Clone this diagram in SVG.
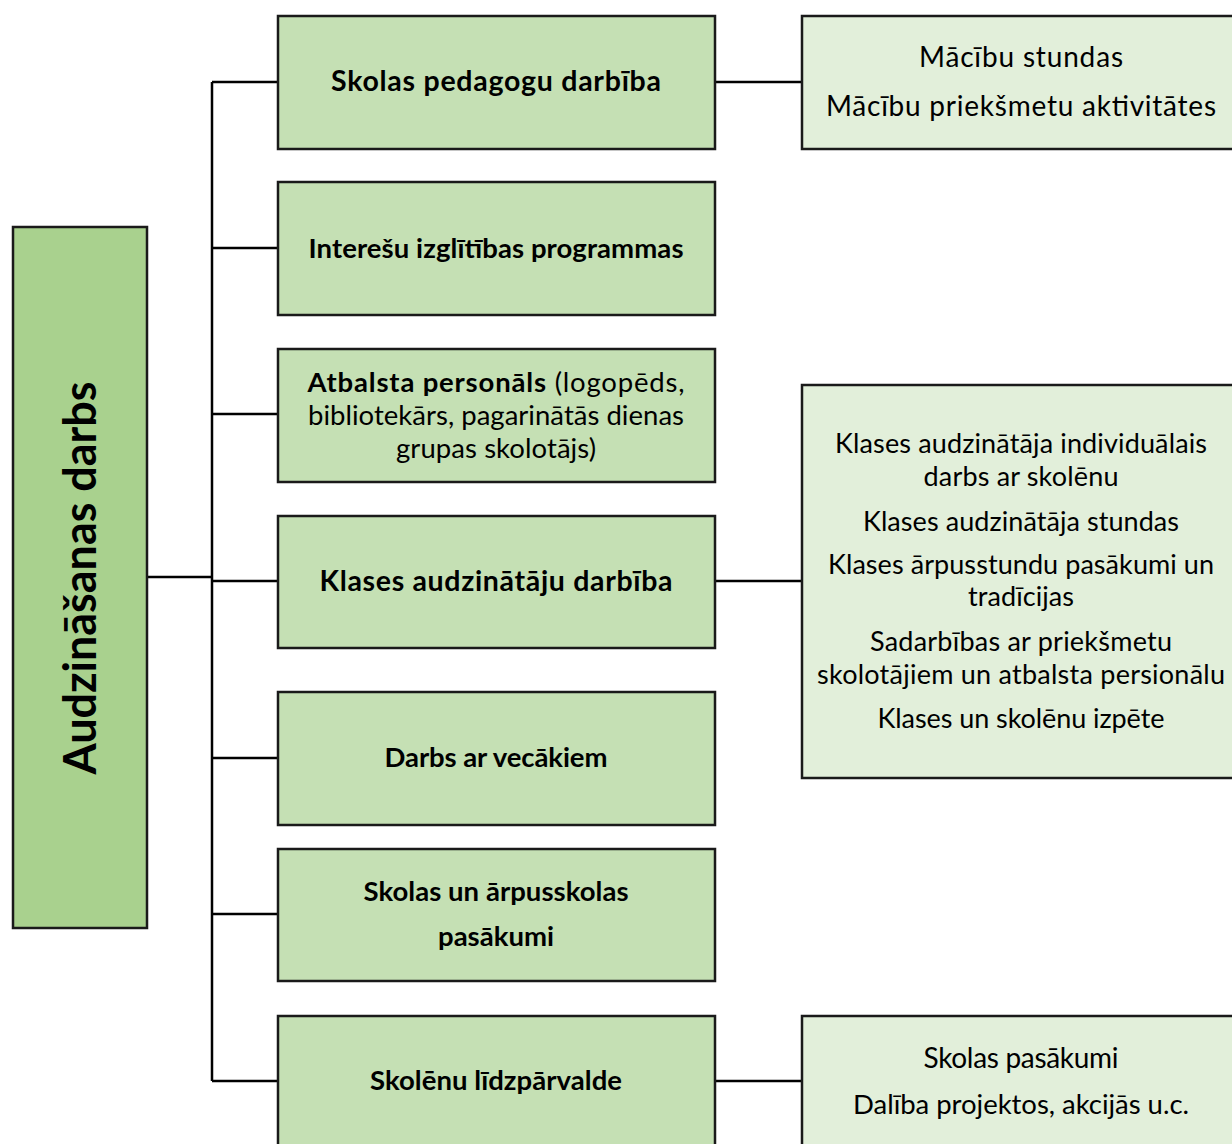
<svg xmlns="http://www.w3.org/2000/svg" width="1232" height="1144" viewBox="0 0 1232 1144">
<style>
.root{fill:#A9D18E;stroke:#1a1a1a;stroke-width:2.5}
.mid{fill:#C5E0B4;stroke:#1a1a1a;stroke-width:2.5}
.det{fill:#E2EFDA;stroke:#1a1a1a;stroke-width:2.5}
.conn{fill:none;stroke:#000;stroke-width:2.5}
text{font-family:Lato,"Open Sans","Liberation Sans",sans-serif;fill:#000;text-anchor:middle}
.b{font-weight:bold;font-size:28.5px}
.bs{font-weight:bold;font-size:27.5px}
.r{font-size:28px}
.rm{font-size:27.5px}
.rs{font-size:27px}
.title{font-weight:bold;font-size:45px}
</style>
<rect width="1232" height="1144" fill="#fff"/>
<g id="connectors">
<path class="conn" d="M147 577H212M212 82V1081M212 82H278M212 248H278M212 414H278M212 581H278M212 758H278M212 914H278M212 1081H278M715 82H802M715 581H802M715 1081H802"/>
</g>
<g id="root">
<rect class="root" x="13" y="227" width="134" height="701"/>
<text class="title" transform="translate(96 578) rotate(-90)" textLength="393">Audzināšanas darbs</text>
</g>
<g id="n1">
<rect class="mid" x="278" y="16" width="437" height="133"/>
<text class="b" x="496" y="91" textLength="330">Skolas pedagogu darbība</text>
</g>
<g id="n2">
<rect class="mid" x="278" y="182" width="437" height="133"/>
<text class="bs" x="496" y="258" textLength="375">Interešu izglītības programmas</text>
</g>
<g id="n3">
<rect class="mid" x="278" y="349" width="437" height="133"/>
<text class="rm" x="496" y="392" textLength="377"><tspan font-weight="bold">Atbalsta personāls</tspan> (logopēds,</text>
<text class="rm" x="496" y="425" textLength="376">bibliotekārs, pagarinātās dienas</text>
<text class="rm" x="496" y="458" textLength="200">grupas skolotājs)</text>
</g>
<g id="n4">
<rect class="mid" x="278" y="516" width="437" height="132"/>
<text class="b" x="496" y="591" textLength="353">Klases audzinātāju darbība</text>
</g>
<g id="n5">
<rect class="mid" x="278" y="692" width="437" height="133"/>
<text class="bs" x="496" y="767" textLength="223">Darbs ar vecākiem</text>
</g>
<g id="n6">
<rect class="mid" x="278" y="849" width="437" height="132"/>
<text class="bs" x="496" y="901" textLength="265">Skolas un ārpusskolas</text>
<text class="bs" x="496" y="946" textLength="116">pasākumi</text>
</g>
<g id="n7">
<rect class="mid" x="278" y="1016" width="437" height="160"/>
<text class="bs" x="496" y="1090" textLength="252">Skolēnu līdzpārvalde</text>
</g>
<g id="d1">
<rect class="det" x="802" y="16" width="460" height="133"/>
<text class="r" x="1021" y="67" textLength="204">Mācību stundas</text>
<text class="r" x="1021" y="116" textLength="390">Mācību priekšmetu aktivitātes</text>
</g>
<g id="d2">
<rect class="det" x="802" y="385" width="460" height="393"/>
<text class="rs" x="1021" y="453" textLength="372">Klases audzinātāja individuālais</text>
<text class="rs" x="1021" y="486" textLength="195">darbs ar skolēnu</text>
<text class="rs" x="1021" y="531" textLength="316">Klases audzinātāja stundas</text>
<text class="rs" x="1021" y="574" textLength="386">Klases ārpusstundu pasākumi un</text>
<text class="rs" x="1021" y="606" textLength="106">tradīcijas</text>
<text class="rs" x="1021" y="651" textLength="302">Sadarbības ar priekšmetu</text>
<text class="rs" x="1021" y="684" textLength="408">skolotājiem un atbalsta persionālu</text>
<text class="rs" x="1021" y="728" textLength="287">Klases un skolēnu izpēte</text>
</g>
<g id="d3">
<rect class="det" x="802" y="1016" width="460" height="160"/>
<text class="r" x="1021" y="1068" textLength="195">Skolas pasākumi</text>
<text class="rm" x="1021" y="1114" textLength="336">Dalība projektos, akcijās u.c.</text>
</g>
</svg>
